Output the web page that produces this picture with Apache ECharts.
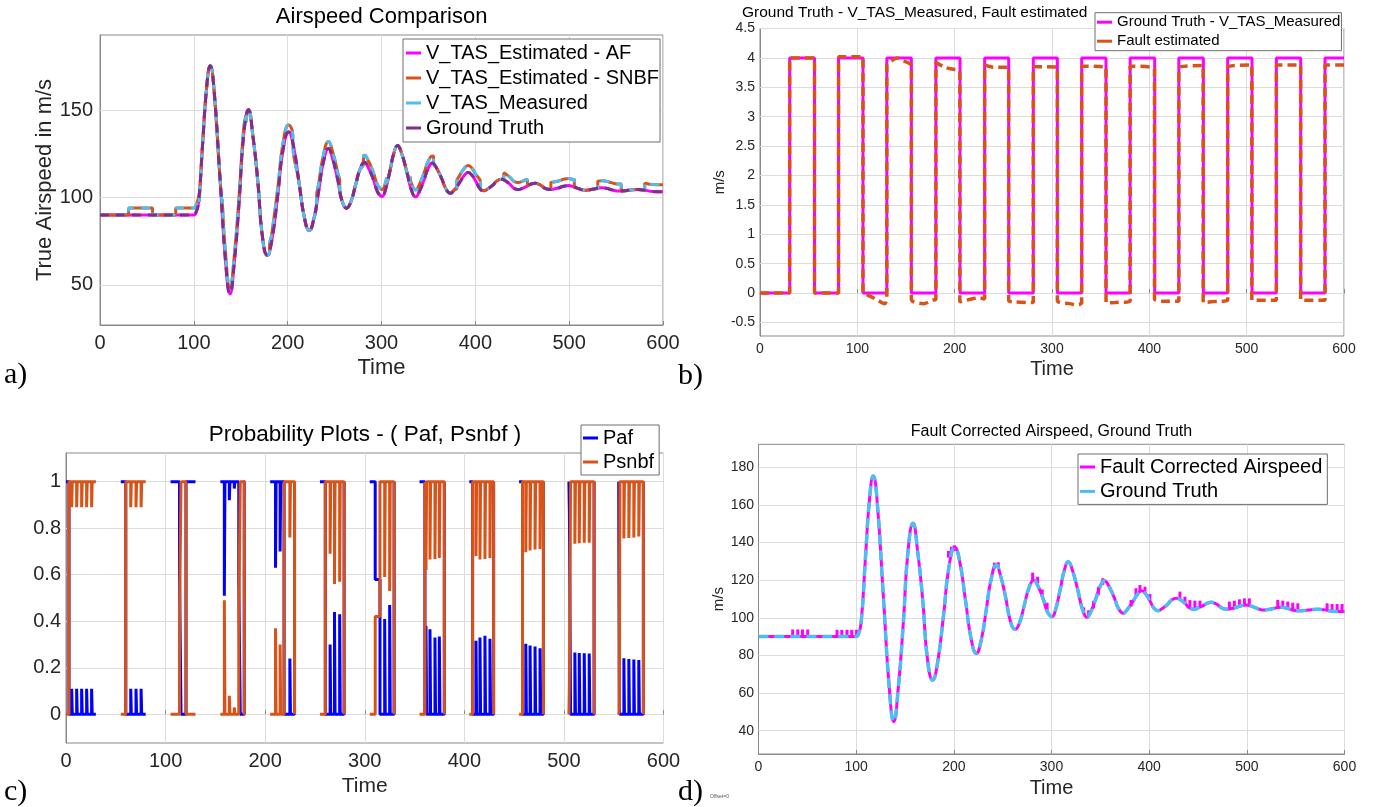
<!DOCTYPE html>
<html><head><meta charset="utf-8">
<script src="https://cdn.jsdelivr.net/npm/echarts@6/dist/echarts.min.js"></script>
<style>html,body{margin:0;padding:0;background:#fff}#c{width:1374px;height:807px}</style>
</head><body><div id="c"></div>
<script>
// ---------------- data ----------------
const timeTicks = [0, 100, 200, 300, 400, 500, 600];
const airTicksA = [50, 100, 150];
const faultTicksB = [-0.5, 0, 0.5, 1, 1.5, 2, 2.5, 3, 3.5, 4, 4.5];
const probTicksC = [0, 0.2, 0.4, 0.6, 0.8, 1];
const airTicksD = [40, 60, 80, 100, 120, 140, 160, 180];

// ground-truth airspeed [time, m/s]
const groundTruth = [[0,90],[100,90],[102,91],[105,97],[109.5,132],[114,165],[117.5,175.4],[121,165],[128,110],[134,62],[138.5,44.8],[143,62],[148.3,97.5],[153,135],[158.2,150.2],[163,135],[168.3,108.5],[173,78],[178.3,66.9],[183,75],[189.6,102],[195,127],[201,137.5],[206,130],[212,109],[218,88],[223,81.1],[228,88],[233.3,104.6],[238,120],[243.5,128.1],[248,122],[253,111],[258,98],[262.7,93.9],[267,97],[272.3,107],[277,116],[281.9,120.1],[286,117],[291.3,110.3],[296,103],[300.7,100.6],[304,104],[309,115.2],[313,125],[317.2,129.8],[321,126],[326.8,115],[332,104],[336.4,100.3],[340,103],[345.3,110],[350,117],[354.3,119.7],[358,117.5],[364,111],[369,104.5],[373.5,102.4],[377,104],[383,108.3],[388,112.5],[392.3,114.3],[396,113],[400.8,109],[405,105],[409.2,103.8],[413,104.8],[418.6,107],[423,109.5],[428,110.4],[432,109.6],[437,107.5],[441,105.3],[445.9,104.5],[450,105.2],[454.8,106.3],[459,107.6],[463.8,108.2],[468,107.5],[471.6,106.3],[475,105],[479.4,104.5],[484,104.9],[489.5,105.6],[494,106.4],[499.5,106.8],[504,106.3],[508.5,105.4],[513,104.5],[517.4,104.1],[522,104.4],[526.3,104.8],[531,105.4],[535.2,105.6],[540,105.2],[544,104.6],[548,104],[553.1,103.7],[560,103.9],[566,104.3],[573,104.5],[580,104.2],[586,103.6],[593,103.3],[600,103.3]];

// measured airspeed (with sensor fault) [time, m/s]
const measured = [[0,90],[30.5,90],[30.5,94],[56,94],[56,90],[80.7,90],[80.7,94],[100,94],[102,95],[105.8,101.5],[105.8,97.5],[109.5,132],[114,165],[117.5,175.4],[121,165],[128,110],[130.3,95],[130.3,99],[134,66],[138.5,48.8],[143,66],[148.3,101.5],[153,139],[155.5,147],[155.5,143],[158.2,150.2],[163,135],[168.3,108.5],[173,78],[178.3,66.9],[180.7,68],[180.7,72],[183,79],[189.6,106],[195,131],[201,141.5],[205.5,135.5],[205.5,131.5],[212,109],[218,88],[223,81.1],[228,88],[230.8,96],[230.8,100],[233.3,108.6],[238,124],[243.5,132.1],[248,126],[253,115],[255.5,108.5],[255.5,104.5],[258,98],[262.7,93.9],[267,97],[272.3,107],[277,116],[280.8,119],[280.8,123],[281.9,124.1],[286,121],[291.3,114.3],[296,107],[300.7,104.6],[304,108],[305.5,111.5],[305.5,107.5],[309,115.2],[313,125],[317.2,129.8],[321,126],[326.8,115],[330.5,108],[330.5,112],[332,108],[336.4,104.3],[340,107],[345.3,114],[350,121],[354.3,123.7],[355.5,123.3],[355.5,119.3],[358,117.5],[364,111],[369,104.5],[373.5,102.4],[377,104],[380.3,105.3],[380.3,109.3],[383,112.3],[388,116.5],[392.3,118.3],[396,117],[400.8,113],[405.5,108.8],[405.5,104.8],[409.2,103.8],[413,104.8],[418.6,107],[423,109.5],[428,110.4],[430.3,110],[430.3,114],[432,113.6],[437,111.5],[441,109.3],[445.9,108.5],[450,109.2],[454.8,110.3],[455.5,110.5],[455.5,106.5],[459,107.6],[463.8,108.2],[468,107.5],[471.6,106.3],[475,105],[479.4,104.5],[480.5,104.5],[480.5,108.5],[484,108.9],[489.5,109.6],[494,110.4],[499.5,110.8],[504,110.3],[505.5,110.1],[505.5,106.1],[508.5,105.4],[513,104.5],[517.4,104.1],[522,104.4],[526.3,104.8],[530.5,105.3],[530.5,109.3],[535.2,109.6],[540,109.2],[544,108.6],[548,108],[553.1,107.7],[555.5,107.7],[555.5,103.7],[560,103.9],[566,104.3],[573,104.5],[580.5,104.2],[580.5,108.2],[586,107.6],[593,107.3],[600,107.3]];

// Ground Truth - V_TAS_Measured : change points (held until next point)
const gtMinusMeasured = [[0,0],[30.5,4],[56,0],[80.7,4],[105.8,0],[130.3,4],[155.5,0],[180.7,4],[205.5,0],[230.8,4],[255.5,0],[280.8,4],[305.5,0],[330.5,4],[355.5,0],[380.3,4],[405.5,0],[430.3,4],[455.5,0],[480.5,4],[505.5,0],[530.5,4],[555.5,0],[580.5,4],[600,4]];

// Fault estimated [time, m/s]
const faultEstimated = [[0,0],[30.5,0],[30.5,4],[56,4],[56,0],[80.7,0],[80.7,4.02],[105.8,4.02],[105.8,0],[110,-0.03],[120,-0.11],[128,-0.18],[130.3,-0.1],[130.3,3.88],[136,3.96],[141,4.0],[146,3.96],[155.5,3.86],[155.5,-0.1],[158,-0.15],[168,-0.18],[177,-0.12],[180.7,-0.1],[180.7,3.92],[190,3.84],[200,3.8],[205.3,3.78],[205.3,-0.15],[215,-0.11],[225,-0.08],[230.8,-0.1],[230.8,3.88],[240,3.84],[255.5,3.84],[255.5,-0.12],[262,-0.15],[280.8,-0.16],[280.8,3.85],[305.5,3.84],[305.5,-0.12],[318,-0.18],[325,-0.2],[330.5,-0.16],[330.5,3.86],[355.5,3.84],[355.5,-0.17],[365,-0.16],[380.3,-0.14],[380.3,3.86],[405.3,3.82],[405.3,-0.1],[415,-0.14],[430.3,-0.14],[430.3,3.84],[455.3,3.87],[455.3,-0.16],[470,-0.14],[480.5,-0.12],[480.5,3.85],[505.3,3.88],[505.3,-0.12],[530.5,-0.12],[530.5,3.88],[555.5,3.88],[555.5,-0.12],[580.5,-0.12],[580.5,3.88],[600,3.88]];

// Probability windows: change points [time, probability] held until next point
const pafWindows = [
 [[0,1],[3,0],[5.7,0.11],[6.3,0],[10.7,0.11],[11.3,0],[15.7,0.11],[16.3,0],[20.7,0.11],[21.3,0],[25.7,0.11],[26.3,0],[30,0]],
 [[55,1],[60,0],[65,0.11],[65.6,0],[70.3,0.11],[70.9,0],[75.4,0.11],[76,0],[80,0]],
 [[105,1],[114,0.6],[115.5,0],[120.5,1],[130,1]],
 [[155,1],[159,0.51],[159.6,1],[164,0.92],[164.6,1],[169,0.97],[169.6,1],[173.5,0.57],[175,0],[179,1],[180,1]],
 [[205,1],[210.4,0.63],[211,1],[215,0.7],[215.6,1],[219,0],[224.8,0.24],[225.4,0],[229.5,1]],
 [[255,1],[260.4,0],[265.2,0.3],[265.8,0],[269.6,0.44],[270.2,0],[274.8,0.43],[275.4,0],[279.3,1]],
 [[305,1],[310.5,0.58],[315.3,0],[320,0.41],[320.6,0],[325,0.47],[325.6,0],[329.5,1]],
 [[355,1],[360.4,0],[361.5,0.38],[362.1,0],[365.5,0.366],[366.1,0],[370.5,0.33],[371.1,0],[374.9,0.335],[375.5,0],[379.9,1]],
 [[405,1],[408.3,0],[411.7,0.316],[412.3,0],[415.7,0.33],[416.3,0],[420.7,0.338],[421.3,0],[425.7,0.325],[426.3,0],[429.4,1]],
 [[455,1],[458.4,0],[461.7,0.303],[462.3,0],[466,0.296],[466.6,0],[471,0.292],[471.6,0],[476,0.284],[476.6,0],[479.4,1]],
 [[505,1],[505.5,0.87],[506.7,0],[511,0.266],[511.6,0],[515.4,0.264],[516,0],[520.4,0.263],[521,0],[525.4,0.262],[526,0],[530.3,1]],
 [[555,1],[555.6,0.02],[556.2,0],[560.2,0.241],[560.8,0],[565.2,0.238],[565.8,0],[570.2,0.236],[570.8,0],[575.2,0.234],[575.8,0],[579.8,1]]
];
const psnbfWindows = [
 [[0,0],[3,1],[5.7,0.89],[6.3,1],[10.7,0.89],[11.3,1],[15.7,0.89],[16.3,1],[20.7,0.89],[21.3,1],[25.7,0.89],[26.3,1],[30,1]],
 [[55,0],[60,1],[65,0.89],[65.6,1],[70.3,0.89],[70.9,1],[75.4,0.89],[76,1],[80,1]],
 [[105,0],[114,0.4],[115.5,1],[120.5,0],[130,0]],
 [[155,0],[159,0.49],[159.6,0],[164,0.08],[164.6,0],[169,0.03],[169.6,0],[173.5,0.43],[175,1],[179,0],[180,0]],
 [[205,0],[210.4,0.37],[211,0],[215,0.3],[215.6,0],[219,1],[224.8,0.76],[225.4,1],[229.5,0]],
 [[255,0],[260.4,1],[265.2,0.69],[265.8,1],[269.6,0.56],[270.2,1],[274.8,0.57],[275.4,1],[279.3,0]],
 [[305,0],[310.5,0.42],[315.3,1],[320,0.59],[320.6,1],[325,0.53],[325.6,1],[329.5,0]],
 [[355,0],[360.4,1],[361.5,0.62],[362.1,1],[365.5,0.665],[366.1,1],[370.5,0.668],[371.1,1],[374.9,0.672],[375.5,1],[379.9,0]],
 [[405,0],[408.3,1],[411.7,0.68],[412.3,1],[415.7,0.665],[416.3,1],[420.7,0.668],[421.3,1],[425.7,0.672],[426.3,1],[429.4,0]],
 [[455,0],[458.4,1],[461.7,0.697],[462.3,1],[466,0.704],[466.6,1],[471,0.708],[471.6,1],[476,0.711],[476.6,1],[479.4,0]],
 [[505,0],[505.5,0.13],[506.7,1],[511,0.733],[511.6,1],[515.4,0.735],[516,1],[520.4,0.737],[521,1],[525.4,0.737],[526,1],[530.3,0]],
 [[555,0],[555.6,0.02],[556.2,1],[560.2,0.756],[560.8,1],[565.2,0.758],[565.8,1],[570.2,0.76],[570.8,1],[575.2,0.764],[575.8,1],[579.8,0]]
];

// small correction spikes on the fault-corrected airspeed [time, low, high]
const correctionSpikes = [[35,90,93.8],[40.2,90,93.8],[45,90,93.8],[50.4,90,93.8],
 [80.4,90,93.6],[85.3,90,93.6],[90.6,90,93.6],[95.5,90,93.6],[100.4,90,93.6],
 [194.5,132,135.5],[197.5,134.5,137.8],[200.5,135.5,138.5],
 [241.5,126,129.3],[245.5,126.5,129.5],
 [280.7,119.5,124],[285.8,118.5,121.8],[290.5,111,115],[295.5,104,108],
 [333,102,105.5],[338,100.5,104],[343,105,109],[348,112,116.5],[352.5,117.5,121],
 [381.5,106,109.5],[386.5,112,115.7],[390.6,113.8,117.4],[395.7,113.2,116.5],[400.8,109.5,112.6],
 [431.5,109.8,113.9],[436.6,107.4,111.2],[441.7,105.3,109.4],[446.8,104.5,109.1],[452,105.4,109.1],
 [482.1,104.6,108.6],[487.2,105.2,109.1],[492.4,106,109.8],[497.5,106.5,110.3],[502.6,106.3,110.3],
 [531.7,105,109.5],[536.8,105.3,109.1],[541.9,104.8,108.6],[547,104.1,108],[552.2,103.6,107.7],
 [582.2,103.8,107.7],[587.3,103.5,107.3],[592.4,103.3,107.3],[597.5,103.2,107.3]];

// ---------------- styling ----------------
const FF = '"Liberation Sans", Arial, Helvetica, sans-serif';
const AXC = '#8a8a8a', GRIDC = '#dcdcdc', TXT = '#262626';
const C_MAG = '#FF00FF', C_ORG = '#D95319', C_CYAN = '#4DBEEE', C_PURP = '#7E2F8E', C_BLUE = '#0000FF';

const grids = [
  {left:100, top:35, width:563, height:290},
  {left:760, top:28.5, width:584, height:307.5},
  {left:66, top:453, width:597.5, height:290},
  {left:758.5, top:444.3, width:586, height:309.7}
].map(g => Object.assign({show:true, borderColor:AXC, borderWidth:1, backgroundColor:'#fff'}, g));

function xAx(gi, fs, margin, nameSize, nameGap) {
  return {type:'value', gridIndex:gi, min:0, max:600, interval:100,
    axisLine:{show:true, lineStyle:{color:AXC}},
    axisTick:{show:true, inside:true, length:4, lineStyle:{color:AXC}},
    axisLabel:{color:TXT, fontSize:fs, margin:margin, fontFamily:FF},
    splitLine:{show:true, lineStyle:{color:GRIDC, width:1}},
    name:'Time', nameLocation:'middle', nameGap:nameGap,
    nameTextStyle:{color:TXT, fontSize:nameSize, fontFamily:FF}};
}
function yAx(gi, min, max, ticks, fs, margin, name, nameSize, nameGap) {
  return {type:'value', gridIndex:gi, min:min, max:max,
    axisLine:{show:true, lineStyle:{color:AXC}},
    axisTick:{show:true, inside:true, length:4, lineStyle:{color:AXC}, customValues:ticks},
    axisLabel:{color:TXT, fontSize:fs, margin:margin, fontFamily:FF, customValues:ticks},
    splitLine:{show:false},
    name:name, nameLocation:'middle', nameGap:nameGap, nameRotate:90,
    nameTextStyle:{color:TXT, fontSize:nameSize, fontFamily:FF}};
}
function hLines(ticks) {
  return {silent:true, symbol:['none','none'], z:1, animation:false,
    label:{show:false}, emphasis:{disabled:true},
    lineStyle:{color:GRIDC, type:'solid', width:1},
    data: ticks.map(v => ({yAxis:v}))};
}
function legend(left, top, fs, gap, pad, items) {
  return {orient:'vertical', left:left, top:top, padding:pad, itemGap:gap,
    itemWidth:15, itemHeight:3, icon:'rect', selectedMode:false,
    backgroundColor:'#fff', borderColor:'#6e6e6e', borderWidth:1, borderRadius:0,
    textStyle:{fontSize:fs, color:'#000', fontFamily:FF},
    data: items.map(it => ({name:it[0], itemStyle:{color:it[1], borderWidth:0}, lineStyle:{color:it[1], type:'solid'}}))};
}
function ln(name, xi, data, color, width, dash, extra) {
  return Object.assign({name:name, type:'line', xAxisIndex:xi, yAxisIndex:xi, data:data,
    symbol:'none', showSymbol:false, animation:false,
    itemStyle:{color:color}, lineStyle:{color:color, width:width, type: dash || 'solid'},
    emphasis:{disabled:true}}, extra || {});
}

const series = [
  // a) Airspeed comparison
  ln('V_TAS_Estimated - AF', 0, groundTruth, C_MAG, 3, null, {smooth:0.5, markLine:hLines(airTicksA)}),
  ln('V_TAS_Estimated - SNBF', 0, measured, C_ORG, 3, null, {smooth:0.5}),
  ln('V_TAS_Measured', 0, measured, C_CYAN, 3, [9,7], {smooth:0.5}),
  ln('Ground Truth', 0, groundTruth, C_PURP, 3, [9,7], {smooth:0.5}),
  // b) fault
  ln('Ground Truth - V_TAS_Measured', 1, gtMinusMeasured, C_MAG, 3, null, {step:'end', markLine:hLines(faultTicksB)}),
  ln('Fault estimated', 1, faultEstimated, C_ORG, 3.5, [9,5], {smooth:0.3}),
];
// c) probabilities
pafWindows.forEach((w, i) => series.push(ln('Paf', 2, w, C_BLUE, 3, null, Object.assign({step:'end'}, i === 0 ? {markLine:hLines(probTicksC)} : {}))));
psnbfWindows.forEach(w => series.push(ln('Psnbf', 2, w, C_ORG, 3, null, {step:'end'})));
// d) fault corrected airspeed
series.push(ln('Fault Corrected Airspeed', 3, groundTruth, C_MAG, 3, null, {smooth:0.5, markLine:hLines(airTicksD)}));
series.push({name:'Fault Corrected Airspeed', type:'custom', xAxisIndex:3, yAxisIndex:3, data:correctionSpikes,
  encode:{x:0, y:[1,2]}, animation:false, silent:true,
  renderItem: function(params, api) {
    const p1 = api.coord([api.value(0), api.value(1)]);
    const p2 = api.coord([api.value(0), api.value(2)]);
    return {type:'line', shape:{x1:p1[0], y1:p1[1], x2:p2[0], y2:p2[1]}, style:{stroke:C_MAG, lineWidth:3}};
  }});
series.push(ln('Ground Truth', 3, groundTruth, C_CYAN, 3.5, [10,6], {smooth:0.5}));

function txt(x, y, text, font, align, color) {
  return {type:'text', x:x, y:y, silent:true, z:100,
    style:{text:text, font:font, fill:color || '#000', textAlign:align || 'center', textVerticalAlign:'middle'}};
}

const option = {
  animation:false,
  backgroundColor:'#fff',
  grid: grids,
  xAxis: [xAx(0,20,8,22,32), xAx(1,14,6,20,23), xAx(2,20,8,21,33), xAx(3,14,6,20,24)],
  yAxis: [
    yAx(0, 27, 193, airTicksA, 20, 7, 'True Airspeed in m/s', 22, 41),
    yAx(1, -0.73, 4.5, faultTicksB, 14, 5, 'm/s', 15, 31),
    yAx(2, -0.123, 1.123, probTicksC, 20, 5, '', 12, 30),
    yAx(3, 27.6, 192.2, airTicksD, 14, 4.5, 'm/s', 15, 29.5)
  ],
  legend: [
    legend(403, 39, 20, 5, [4,1,4,3], [['V_TAS_Estimated - AF',C_MAG],['V_TAS_Estimated - SNBF',C_ORG],['V_TAS_Measured',C_CYAN],['Ground Truth',C_PURP]]),
    legend(1095, 12.7, 15, 4, [2,1,2,2], [['Ground Truth - V_TAS_Measured',C_MAG],['Fault estimated',C_ORG]]),
    legend(581, 425, 20, 4, [3,5,3,2], [['Paf',C_BLUE],['Psnbf',C_ORG]]),
    legend(1078, 454, 20, 4.4, [3,5,3,2], [['Fault Corrected Airspeed',C_MAG],['Ground Truth',C_CYAN]])
  ],
  graphic: [
    txt(381.6, 17.2, 'Airspeed Comparison', '22px ' + FF),
    txt(742, 12.8, 'Ground Truth - V_TAS_Measured, Fault estimated', '15.5px ' + FF, 'left'),
    txt(365, 435, 'Probability Plots - ( Paf, Psnbf )', '22.5px ' + FF),
    txt(1051.5, 432, 'Fault Corrected Airspeed, Ground Truth', '16px ' + FF),
    txt(4, 375, 'a)', '30px "Liberation Serif", "Times New Roman", serif', 'left'),
    txt(678, 376, 'b)', '30px "Liberation Serif", "Times New Roman", serif', 'left'),
    txt(4, 792, 'c)', '30px "Liberation Serif", "Times New Roman", serif', 'left'),
    txt(678, 792, 'd)', '30px "Liberation Serif", "Times New Roman", serif', 'left'),
    txt(710, 797, 'Offset=0', '5px ' + FF, 'left', '#555')
  ],
  series: series
};
const chart = echarts.init(document.getElementById('c'), null, {renderer:'canvas'});
chart.setOption(option);
</script></body></html>
